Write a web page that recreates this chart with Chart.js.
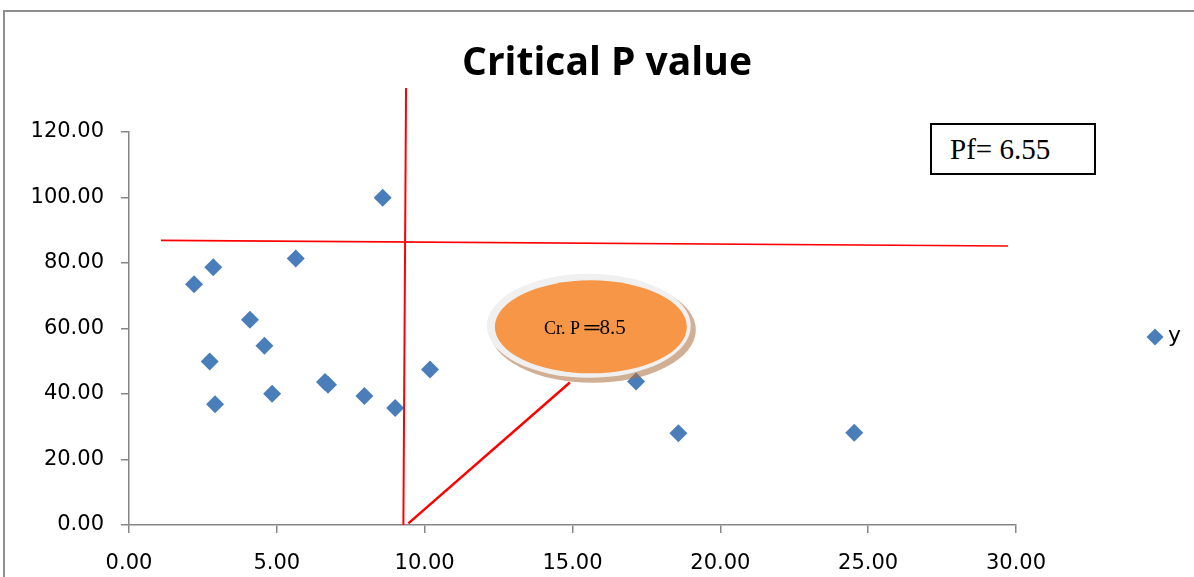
<!DOCTYPE html>
<html><head><meta charset="utf-8">
<script src="https://cdn.jsdelivr.net/npm/chart.js@4.4.0/dist/chart.umd.min.js"></script>
<style>
html,body{margin:0;padding:0;background:#fff;overflow:hidden;}
#wrap{position:relative;width:1194px;height:577px;overflow:hidden;}
#frame{position:absolute;left:3px;top:10px;width:1400px;height:800px;border-left:2px solid #8e8e8e;border-top:2px solid #8e8e8e;}
canvas{position:absolute;left:0;top:0;}
#title{position:absolute;left:357px;width:500px;top:33px;line-height:39px;text-align:center;font:bold 39px "Open Sans",sans-serif;color:#000;white-space:nowrap;}
#pf{position:absolute;left:930px;top:123px;width:162px;height:48px;border:2px solid #000;background:#fff;font:29px "Liberation Serif","Times New Roman",serif;color:#000;}
#pf span{position:absolute;left:18px;top:8px;white-space:nowrap;}
#legend{position:absolute;left:1146px;top:322px;height:30px;font:22px "DejaVu Sans",sans-serif;color:#000;}
#legend i{position:absolute;left:3px;top:9px;width:12px;height:12px;background:#4a7ebb;transform:rotate(45deg);}
#legend span{position:absolute;left:22px;top:0px;}
</style>
</head><body>
<div id="wrap">
<div id="frame"></div>
<canvas id="c" width="1194" height="577"></canvas>
<div id="title">Critical P value</div>
<div id="pf"><span>Pf= 6.55</span></div>
<div id="legend"><i></i><span>y</span></div>
</div>
<script>
// ---- data ----
const seriesName = 'y';
const xValues = [2.20, 2.85, 2.73, 2.91, 4.09, 4.58, 4.84, 5.64, 6.63, 6.73, 7.96, 9.00, 8.58, 10.18, 17.15, 18.58, 24.53];
const yValues = [73.5, 78.7, 49.9, 36.9, 62.7, 54.7, 40.1, 81.4, 43.7, 42.8, 39.4, 35.7, 99.9, 47.5, 43.8, 28.0, 28.2];
const xTicks = [0, 5, 10, 15, 20, 25, 30];
const yTicks = [0, 20, 40, 60, 80, 100, 120];
// red reference lines (data coordinates)
const hLineX = [1.08, 29.73];
const hLineY = [86.9, 85.2];
const vLineX = [9.37, 9.28];
const vLineY = [133.4, 0];
const pointerX = [9.45, 14.91];
const pointerY = [0.5, 43.5];
const calloutLabel = 'Cr. P ';
const calloutValue = '\u25508.5';
const calloutAnchor = {x: 15.62, y: 60.5};

const pts = xValues.map((x, i) => ({x, y: yValues[i]}));
const toPts = (xs, ys) => xs.map((x, i) => ({x, y: ys[i]}));

const calloutPlugin = {
  id: 'callout',
  afterDatasetsDraw(chart) {
    const ctx = chart.ctx;
    const cx = chart.scales.x.getPixelForValue(calloutAnchor.x);
    const cy = chart.scales.y.getPixelForValue(calloutAnchor.y);
    ctx.save();
    ctx.beginPath();
    ctx.ellipse(cx + 2, cy + 3, 103, 53, 0, 0, Math.PI * 2);
    ctx.fillStyle = 'rgba(170,110,60,0.55)';
    ctx.fill();
    ctx.beginPath();
    ctx.ellipse(cx - 2, cy - 1, 102, 52, 0, 0, Math.PI * 2);
    ctx.fillStyle = '#f0f0f0';
    ctx.fill();
    ctx.beginPath();
    ctx.ellipse(cx, cy, 96, 46.5, 0, 0, Math.PI * 2);
    ctx.fillStyle = '#f79646';
    ctx.fill();
    ctx.fillStyle = '#000';
    ctx.textBaseline = 'alphabetic';
    ctx.font = '18px "Liberation Serif", serif';
    const w1 = ctx.measureText(calloutLabel).width;
    ctx.font = '21px "Liberation Serif", serif';
    const w2 = ctx.measureText(calloutValue).width;
    let x0 = cx - 6 - (w1 + w2) / 2;
    ctx.font = '18px "Liberation Serif", serif';
    ctx.fillText(calloutLabel, x0, cy + 7);
    ctx.font = '21px "Liberation Serif", serif';
    ctx.fillText(calloutValue, x0 + w1, cy + 7);
    ctx.restore();
  }
};

const axisColor = '#868686';
const tickFont = {family: '"DejaVu Sans", sans-serif', size: 21};

new Chart(document.getElementById('c'), {
  type: 'scatter',
  data: {
    datasets: [
      {label: seriesName, data: pts, pointStyle: 'rectRot', pointRadius: 9, pointHoverRadius: 9,
       backgroundColor: '#4a7ebb', borderColor: '#4a7ebb', borderWidth: 0, order: 2},
      {label: 'h', data: toPts(hLineX, hLineY), showLine: true, pointRadius: 0, borderColor: '#ff0000', borderWidth: 1.6, clip: false, order: 1},
      {label: 'v', data: toPts(vLineX, vLineY), showLine: true, pointRadius: 0, borderColor: '#ff0000', borderWidth: 2, clip: false, order: 1},
      {label: 'p', data: toPts(pointerX, pointerY), showLine: true, pointRadius: 0, borderColor: '#ff0000', borderWidth: 2.5, clip: false, order: 1}
    ]
  },
  options: {
    responsive: false,
    animation: false,
    devicePixelRatio: 1,
    layout: {padding: {left: 0, top: 132, right: 178, bottom: 0}},
    plugins: {legend: {display: false}, tooltip: {enabled: false}, title: {display: false}},
    scales: {
      x: {
        type: 'linear', min: 0, max: 30,
        afterFit: s => { s.height = 52; },
        afterBuildTicks: s => { s.ticks = xTicks.map(v => ({value: v})); },
        grid: {display: true, drawOnChartArea: false, drawTicks: true, tickLength: 8, color: axisColor, lineWidth: 1.5},
        border: {display: true, color: axisColor, width: 1.5},
        ticks: {font: tickFont, color: '#000', padding: 18, maxRotation: 0, callback: v => Number(v).toFixed(2)}
      },
      y: {
        type: 'linear', min: 0, max: 120,
        afterFit: s => { s.width = 129; },
        afterBuildTicks: s => { s.ticks = yTicks.map(v => ({value: v})); },
        grid: {display: true, drawOnChartArea: false, drawTicks: true, tickLength: 8, color: axisColor, lineWidth: 1.5},
        border: {display: true, color: axisColor, width: 1.5},
        ticks: {font: tickFont, color: '#000', padding: 17, callback: v => Number(v).toFixed(2)}
      }
    }
  },
  plugins: [calloutPlugin]
});
</script>
</body></html>
